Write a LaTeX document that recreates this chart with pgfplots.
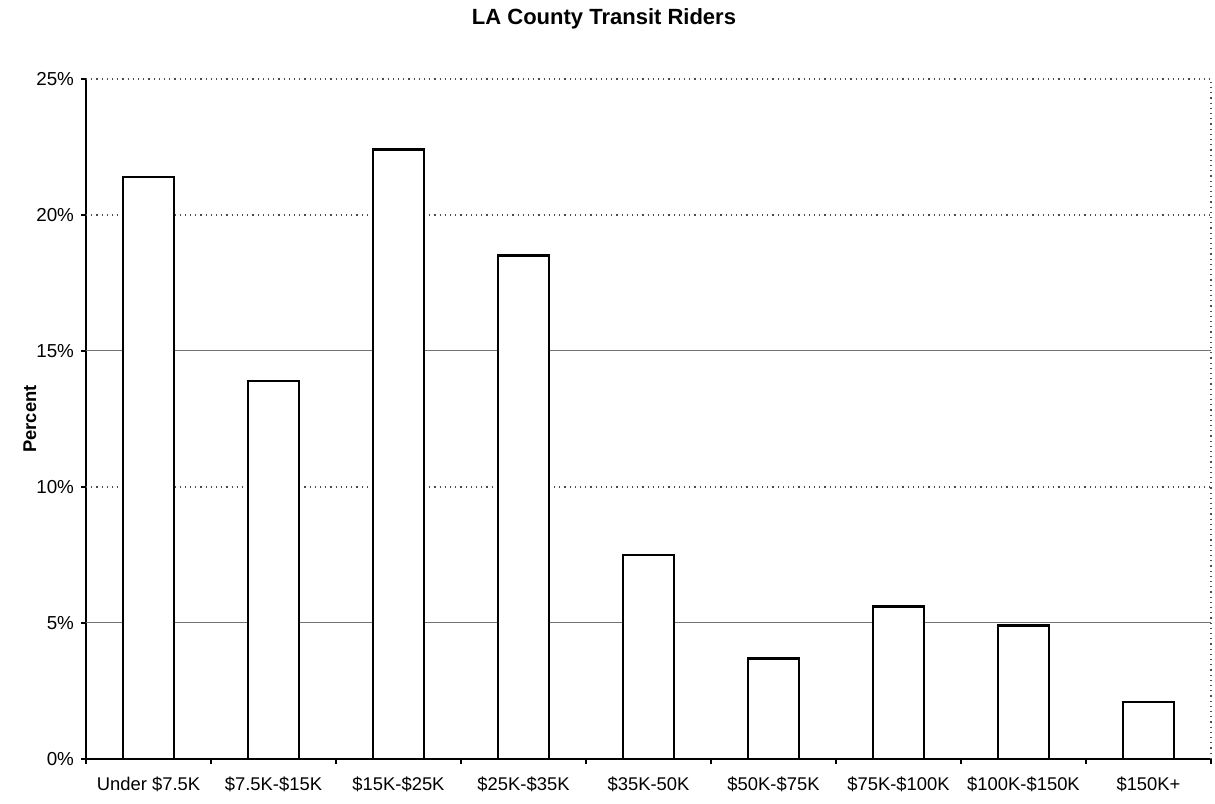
\documentclass[border=0pt]{standalone}
\usepackage{fontspec}
\setmainfont{Liberation Sans}
\usepackage{pgfplots}
\pgfplotsset{compat=1.18}
\begin{document}
\begin{tikzpicture}
\begin{axis}[
  scale only axis,
  width=562.5pt, height=340pt,
  xmin=-0.5, xmax=8.5, ymin=0, ymax=25,
  axis lines*=left,
  axis line style={-, black, line width=0.8pt},
  tick align=outside,
  font=\fontsize{9.2}{11}\selectfont,
  /pgf/number format/assume math mode=true,
  ytick={0,5,10,15,20,25},
  yticklabel={\pgfmathprintnumber{\tick}\%},
  yticklabel style={font=\fontsize{9.4}{11}\selectfont},
  major tick length=2.5pt,
  minor tick length=2.5pt,
  tick style={black, line width=0.6pt},
  xtick={0,...,8},
  xticklabels={Under \$7.5K, \$7.5K-\$15K, \$15K-\$25K, \$25K-\$35K, \$35K-50K, \$50K-\$75K, \$75K-\$100K, \$100K-\$150K, \$150K+},
  major x tick style={draw=none},
  minor xtick={-0.5,0.5,...,8.5},
  xticklabel style={yshift=-3pt},
  ylabel={\bfseries Percent},
  ylabel style={at={(axis description cs:-0.0498,0.5)}, anchor=center, font=\fontsize{9.2}{11}\selectfont},
  clip=false,
]
% grid lines behind the bars
\draw[black!70, dotted, line width=0.6pt] (axis cs:-0.5,25) -- (axis cs:8.5,25);
\draw[black!70, dotted, line width=0.6pt] (axis cs:-0.5,20) -- (axis cs:8.5,20);
\draw[black!55, line width=0.5pt] (axis cs:-0.5,15) -- (axis cs:8.5,15);
\draw[black!70, dotted, line width=0.6pt] (axis cs:-0.5,10) -- (axis cs:8.5,10);
\draw[black!55, line width=0.5pt] (axis cs:-0.5,5) -- (axis cs:8.5,5);
\draw[black!70, dotted, line width=0.6pt] (rel axis cs:1,0) -- (rel axis cs:1,1);

\addplot[ybar, bar width=25.5pt, fill=white, draw=black, line width=1.35pt]
  coordinates {(0,21.4) (1,13.9) (2,22.4) (3,18.5) (4,7.5) (5,3.7) (6,5.6) (7,4.9) (8,2.1)};
\end{axis}
\node[font=\bfseries\fontsize{11}{13}\selectfont] at (259pt,370pt) {LA County Transit Riders};
\pgfresetboundingbox
\path (-43pt,-22pt) rectangle (564.5pt,379.5pt);
\end{tikzpicture}
\end{document}
